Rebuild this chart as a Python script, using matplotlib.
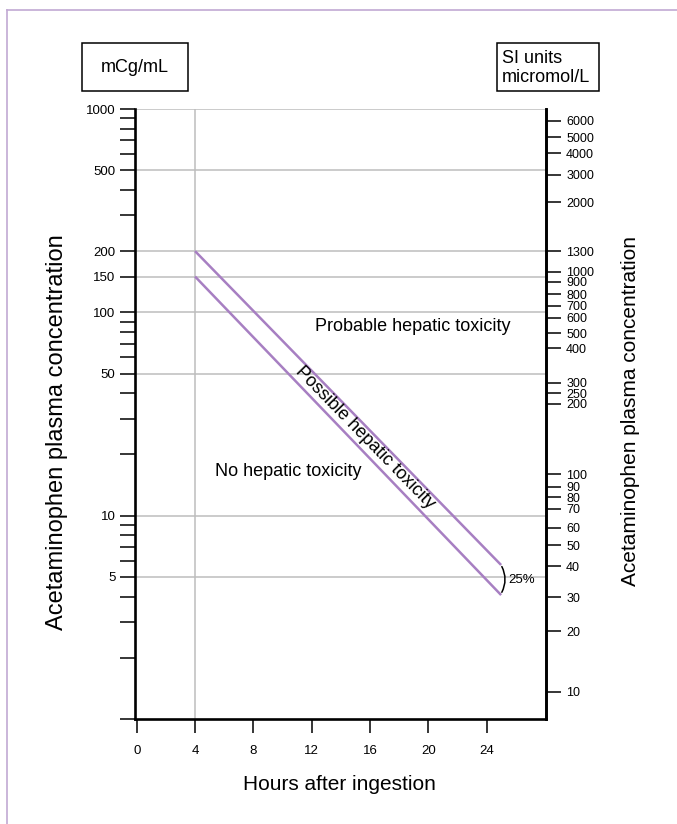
import numpy as np
import matplotlib
matplotlib.use("Agg")
import matplotlib.pyplot as plt
from matplotlib.lines import Line2D
from matplotlib.patches import Rectangle

plt.rcParams['font.family'] = ['Liberation Sans', 'DejaVu Sans']

# hours on the x axis
hour_ticks = [0, 4, 8, 12, 16, 20, 24]

# left axis (mCg/mL)
mg_labeled = [1000, 500, 200, 150, 100, 50, 10, 5]
mg_unlabeled = [900, 800, 700, 600, 400, 300, 90, 80, 70, 60,
                40, 30, 20, 9, 8, 7, 6, 4, 3, 2, 1]
mg_grid = [1000, 500, 200, 150, 100, 50, 10, 5]

# right axis (SI units) - labels and where each one sits on the mCg/mL scale
si_labels = [6000, 5000, 4000, 3000, 2000, 1300, 1000, 900, 800, 700, 600,
             500, 400, 300, 250, 200, 100, 90, 80, 70, 60, 50, 40, 30, 20, 10]
si_at_mg = [876, 728, 607, 475, 347, 200, 158.5, 141.5, 122.6, 107.8, 94.0,
            78.8, 66.5, 45.0, 39.9, 35.6, 16.0, 13.9, 12.3, 10.8, 8.73,
            7.14, 5.63, 3.97, 2.70, 1.36]

# treatment lines (hours, concentration)
upper_hours = [4, 25]
upper_conc = [200, 5.72]
lower_hours = [4, 25]
lower_conc = [150, 4.07]

purple = '#a77fc2'
grey = '#bdbdbd'

fig = plt.figure(figsize=(6.77, 8.24), dpi=100)
ax = fig.add_axes([135 / 677, 1 - 719 / 824, 411 / 677, 610 / 824])

ax.set_yscale('log')
ax.set_xlim(-0.12, 28.08)
ax.set_ylim(1, 1000)

# grid
for v in mg_grid:
    ax.axhline(v, color=grey, lw=1.1, zorder=1)
ax.axvline(4, color=grey, lw=1.1, zorder=1)

# spines
for s in ['left', 'bottom', 'right']:
    ax.spines[s].set_linewidth(1.9)
    ax.spines[s].set_color('black')
ax.spines['top'].set_visible(False)

# x ticks
ax.set_xticks(hour_ticks)
ax.set_xticklabels([str(h) for h in hour_ticks])
ax.tick_params(axis='x', direction='out', length=10, width=1.1, pad=9, labelsize=9.5)

# left y ticks
ax.yaxis.set_minor_locator(matplotlib.ticker.FixedLocator(mg_unlabeled))
ax.yaxis.set_minor_formatter(matplotlib.ticker.NullFormatter())
ax.set_yticks(mg_labeled)
ax.set_yticklabels([str(v) for v in mg_labeled])
ax.tick_params(axis='y', which='both', direction='out', length=10.5, width=1.1,
               pad=3.5, labelsize=9.5)

# right y axis
ax2 = ax.twinx()
ax2.set_yscale('log')
ax2.set_ylim(1, 1000)
for s in ['left', 'bottom', 'top']:
    ax2.spines[s].set_visible(False)
ax2.spines['right'].set_linewidth(1.9)
ax2.yaxis.set_minor_locator(matplotlib.ticker.NullLocator())
ax2.set_yticks(si_at_mg)
ax2.set_yticklabels([str(v) for v in si_labels])
ax2.tick_params(axis='y', direction='out', length=10.5, width=1.1, pad=4,
                labelsize=9)

# nomogram lines
ax.plot(upper_hours, upper_conc, color=purple, lw=1.8, zorder=3,
        solid_capstyle='butt')
ax.plot(lower_hours, lower_conc, color=purple, lw=1.8, zorder=3,
        solid_capstyle='butt')

# region labels
ax.text(12.23, 85, 'Probable hepatic toxicity', fontsize=13, ha='left', va='center')
ax.text(5.38, 16.4, 'No hepatic toxicity', fontsize=13, ha='left', va='center')

p0 = ax.transData.transform((upper_hours[0], upper_conc[0]))
p1 = ax.transData.transform((upper_hours[1], upper_conc[1]))
angle = np.degrees(np.arctan2(p1[1] - p0[1], p1[0] - p0[0]))
ax.text(15.66, 24.1, 'Possible hepatic toxicity', fontsize=13, ha='center',
        va='center', rotation=angle, rotation_mode='anchor')

# 25% bracket
ax.annotate('', xy=(25.05, 4.2), xytext=(25.05, 5.62),
            arrowprops=dict(arrowstyle='-', color='black', lw=1.1,
                            connectionstyle='arc3,rad=-0.25',
                            shrinkA=0, shrinkB=0))
ax.text(25.5, 4.85, '25%', fontsize=9.5, ha='left', va='center')

# axis labels
fig.text(339.5 / 677, 1 - 785 / 824, 'Hours after ingestion', fontsize=15,
         ha='center', va='center')
fig.text(57 / 677, 1 - 432 / 824, 'Acetaminophen plasma concentration',
         fontsize=17, rotation=90, ha='center', va='center')
fig.text(630 / 677, 1 - 411 / 824, 'Acetaminophen plasma concentration',
         fontsize=15, rotation=90, ha='center', va='center')

# unit boxes
fig.add_artist(Rectangle((82 / 677, 1 - 91 / 824), 106 / 677, 48 / 824,
                         transform=fig.transFigure, fill=False,
                         edgecolor='black', lw=1.1))
fig.text(135 / 677, 1 - 67 / 824, 'mCg/mL', fontsize=13, ha='center', va='center')

fig.add_artist(Rectangle((497 / 677, 1 - 91 / 824), 102 / 677, 48 / 824,
                         transform=fig.transFigure, fill=False,
                         edgecolor='black', lw=1.1))
fig.text(502 / 677, 1 - 68 / 824, 'SI units\nmicromol/L', fontsize=13,
         ha='left', va='center', linespacing=1.1)

# outer frame (left and top edges)
fig.add_artist(Line2D([7 / 677, 7 / 677], [0, 1 - 9.5 / 824],
                      transform=fig.transFigure, color='#c1a9d3', lw=1.2))
fig.add_artist(Line2D([7 / 677, 1], [1 - 9.5 / 824, 1 - 9.5 / 824],
                      transform=fig.transFigure, color='#c1a9d3', lw=1.2))

fig.savefig('out.png', dpi=100)
